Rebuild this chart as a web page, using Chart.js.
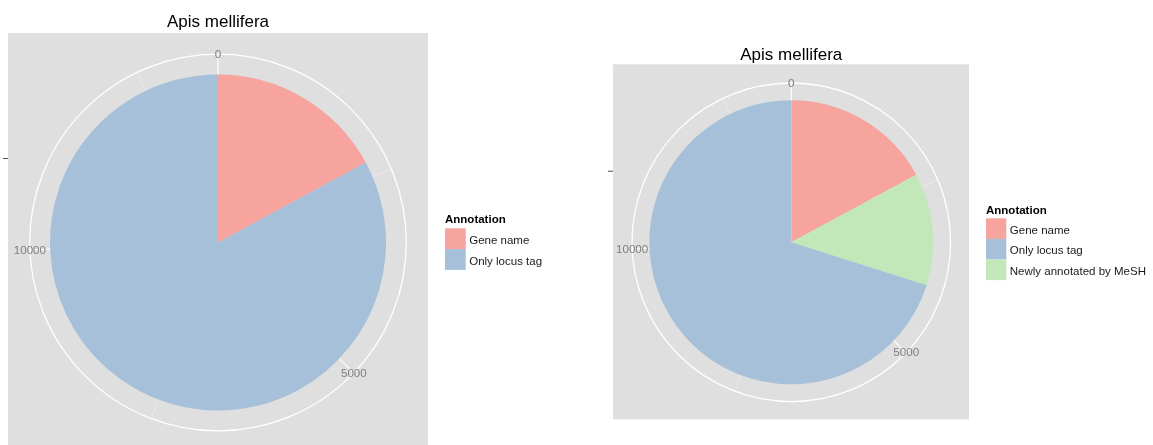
<!DOCTYPE html>
<html>
<head>
<meta charset="utf-8">
<script src="https://cdn.jsdelivr.net/npm/chart.js@4/dist/chart.umd.min.js"></script>
<style>
  html, body { margin: 0; padding: 0; background: #fff; }
  #wrap { position: relative; width: 1153px; height: 445px; overflow: hidden; }
  canvas { position: absolute; top: 0; }
</style>
</head>
<body>
<div id="wrap">
  <canvas id="left" width="590" height="445" style="left:0"></canvas>
  <canvas id="right" width="563" height="445" style="left:590px"></canvas>
</div>
<script>
// --- données ---
const TITRE = "Apis mellifera";
const TITRE_LEGENDE = "Annotation";

const categoriesGauche = ["Gene name", "Only locus tag"];
const valeursGauche = [2300, 11150];

// ordre des parts dans le camembert (sens horaire depuis le haut)
const categoriesDroite = ["Gene name", "Newly annotated by MeSH", "Only locus tag"];
const valeursDroite = [2300, 1720, 9430];
// ordre dans la légende
const legendeDroite = ["Gene name", "Only locus tag", "Newly annotated by MeSH"];
const legendeGauche = ["Gene name", "Only locus tag"];

const ticksMajeurs = [0, 5000, 10000];
const ticksMineurs = [2500, 7500, 12500];

const couleurs = {
    "Gene name": "#F7A39E",
    "Only locus tag": "#A6C0DA",
    "Newly annotated by MeSH": "#C2E7B9",
};

const FONTE = '"Liberation Sans", Arial, Helvetica, sans-serif';

/** Plugin façon ggplot2 coord_polar : panneau gris, anneau, libellés, légende. */
const ggPolar = {
    id: "ggPolar",
    beforeDraw(chart, args, o) {
        const ctx = chart.ctx;
        const [x0, y0, x1, y1] = o.panneau;
        ctx.save();
        ctx.fillStyle = "#ffffff";
        ctx.fillRect(0, 0, chart.width, chart.height);
        ctx.fillStyle = "#DFDFDF";
        ctx.fillRect(x0, y0, x1 - x0, y1 - y0);
        // petit tick de l'axe y (vide)
        ctx.strokeStyle = "#4d4d4d";
        ctx.lineWidth = 1;
        ctx.beginPath();
        ctx.moveTo(x0 - 5, o.tickY + 0.5);
        ctx.lineTo(x0, o.tickY + 0.5);
        ctx.stroke();
        ctx.restore();
    },
    beforeDatasetsDraw(chart, args, o) {
        const ctx = chart.ctx;
        const arc = chart.getDatasetMeta(0).data[0];
        const cx = arc.x, cy = arc.y;
        const total = chart.data.datasets[0].data.reduce((a, b) => a + b, 0);
        ctx.save();
        ctx.strokeStyle = "#ffffff";
        ctx.lineWidth = 1.3;
        ctx.beginPath();
        ctx.arc(cx, cy, o.rayonAnneau, 0, Math.PI * 2);
        ctx.stroke();
        const rayon = (v, largeur, alpha) => {
            const a = v / total * Math.PI * 2 - Math.PI / 2;
            ctx.strokeStyle = "rgba(255,255,255," + alpha + ")";
            ctx.lineWidth = largeur;
            ctx.beginPath();
            ctx.moveTo(cx, cy);
            ctx.lineTo(cx + Math.cos(a) * o.rayonAnneau, cy + Math.sin(a) * o.rayonAnneau);
            ctx.stroke();
        };
        ticksMineurs.forEach(v => rayon(v, 0.8, 0.45));
        ticksMajeurs.forEach(v => rayon(v, 1.2, 1));
        ctx.restore();
    },
    afterDatasetsDraw(chart, args, o) {
        const ctx = chart.ctx;
        const arc = chart.getDatasetMeta(0).data[0];
        const cx = arc.x, cy = arc.y;
        const total = chart.data.datasets[0].data.reduce((a, b) => a + b, 0);
        ctx.save();
        // libellés theta
        ctx.font = "11.6px " + FONTE;
        ctx.fillStyle = "#7F7F7F";
        ctx.textAlign = "center";
        ctx.textBaseline = "middle";
        ticksMajeurs.forEach(v => {
            const a = v / total * Math.PI * 2 - Math.PI / 2;
            ctx.fillText(String(v), cx + Math.cos(a) * o.rayonAnneau, cy + Math.sin(a) * o.rayonAnneau + 0.5);
        });
        // titre
        ctx.font = "17px " + FONTE;
        ctx.fillStyle = "#000000";
        ctx.textBaseline = "alphabetic";
        ctx.fillText(TITRE, cx, o.titreY);
        // légende
        const lg = o.legende;
        ctx.textAlign = "left";
        ctx.font = "bold 11.5px " + FONTE;
        ctx.fillText(TITRE_LEGENDE, lg.x, lg.titreY);
        ctx.font = "11.5px " + FONTE;
        lg.ordre.forEach((nom, i) => {
            const y = lg.cleY + i * lg.pas;
            ctx.fillStyle = couleurs[nom];
            ctx.fillRect(lg.x, y, lg.cote, lg.pas);
            ctx.fillStyle = "#1a1a1a";
            ctx.fillText(nom, lg.x + lg.cote + 3.5, y + lg.pas / 2 + 5);
        });
        ctx.restore();
    },
};

function creerCamembert(id, categories, valeurs, conf) {
    const canvas = document.getElementById(id);
    const W = canvas.width, H = canvas.height;
    const { cx, cy, r } = conf;
    return new Chart(canvas, {
        type: "pie",
        data: {
            labels: categories,
            datasets: [{
                data: valeurs,
                backgroundColor: categories.map(c => couleurs[c]),
                borderWidth: 0,
            }],
        },
        options: {
            responsive: false,
            animation: false,
            devicePixelRatio: 1,
            radius: r,
            layout: {
                padding: { left: cx - r, right: W - (cx + r), top: cy - r, bottom: H - (cy + r) },
            },
            plugins: {
                legend: { display: false },
                tooltip: { enabled: false },
                title: { display: false },
                ggPolar: conf.gg,
            },
        },
        plugins: [ggPolar],
    });
}

creerCamembert("left", categoriesGauche, valeursGauche, {
    cx: 218, cy: 242.5, r: 168,
    gg: {
        panneau: [8, 33, 428, 445],
        tickY: 158,
        rayonAnneau: 188.3,
        titreY: 27,
        legende: { x: 445, titreY: 223, cleY: 228.3, pas: 20.8, cote: 20.7, ordre: legendeGauche },
    },
});

creerCamembert("right", categoriesDroite, valeursDroite, {
    cx: 201.3, cy: 242.3, r: 142,
    gg: {
        panneau: [23, 64.3, 379, 419.3],
        tickY: 170.7,
        rayonAnneau: 159.3,
        titreY: 60,
        legende: { x: 396, titreY: 214, cleY: 218.3, pas: 20.6, cote: 20.3, ordre: legendeDroite },
    },
});
</script>
</body>
</html>
